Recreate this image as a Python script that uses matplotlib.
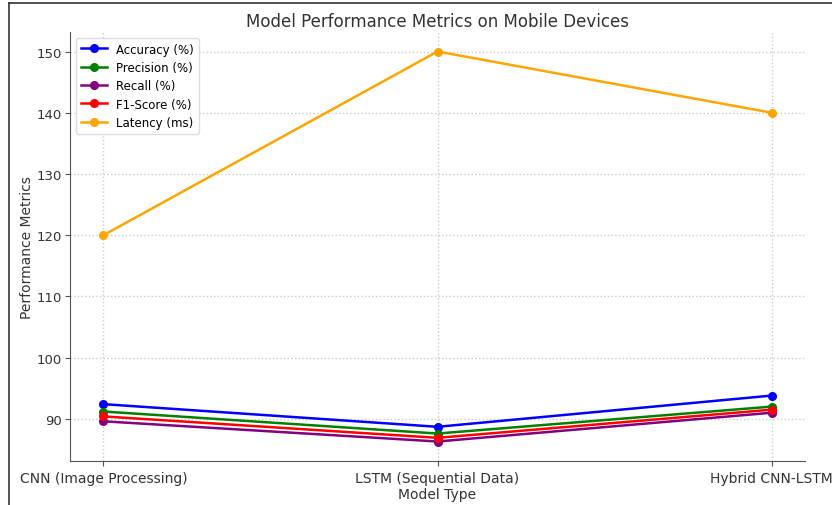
import matplotlib
matplotlib.use("Agg")
import matplotlib.pyplot as plt
from matplotlib.lines import Line2D

models = ["CNN (Image Processing)", "LSTM (Sequential Data)", "Hybrid CNN-LSTM"]
accuracy = [92.4, 88.7, 93.8]
precision = [91.2, 87.6, 92.0]
recall = [89.6, 86.3, 91.0]
f1_score = [90.4, 86.9, 91.5]
latency = [120, 150, 140]

series = [
    ("Accuracy (%)", accuracy, "blue"),
    ("Precision (%)", precision, "green"),
    ("Recall (%)", recall, "purple"),
    ("F1-Score (%)", f1_score, "red"),
    ("Latency (ms)", latency, "orange"),
]

W, H = 832, 506
fig = plt.figure(figsize=(W / 100, H / 100), dpi=100)
left, right, top, bottom = 70, 805, 33, 462
ax = fig.add_axes([left / W, 1 - bottom / H, (right - left) / W, (bottom - top) / H])

x = list(range(len(models)))
for label, vals, color in series:
    ax.plot(x, vals, marker="o", color=color, label=label, linewidth=1.8, markersize=5.5)

ax.set_xticks(x)
ax.set_xticklabels(models, fontsize=10, color="#333333")
ax.tick_params(axis="y", labelsize=9.5, labelcolor="#333333", color="#555555", pad=2.5)
ax.tick_params(axis="x", color="#555555")
ax.set_yticks([90, 100, 110, 120, 130, 140, 150])
ax.set_xlabel("Model Type", fontsize=10, color="#333333", labelpad=2)
ax.set_ylabel("Performance Metrics", fontsize=10, color="#333333", labelpad=2)
ax.set_title("Model Performance Metrics on Mobile Devices", fontsize=12, color="#333333", pad=4)
ax.grid(True, linestyle=":", color="#cccccc", linewidth=1)
ax.spines["top"].set_visible(False)
ax.spines["right"].set_visible(False)
ax.spines["left"].set_color("#555555")
ax.spines["bottom"].set_color("#555555")
ax.legend(loc="upper left", fontsize=8.5, labelspacing=0.45, handlelength=2.2,
          framealpha=1, edgecolor="#dddddd")

# screenshot frame lines
fig.add_artist(Line2D([9 / W, 9 / W], [0, 1 - 4 / H], color="#333333", linewidth=1.2,
                      transform=fig.transFigure))
fig.add_artist(Line2D([9 / W, 1], [1 - 4 / H, 1 - 4 / H], color="#333333", linewidth=1.2,
                      transform=fig.transFigure))

fig.savefig("out.png", dpi=100)
